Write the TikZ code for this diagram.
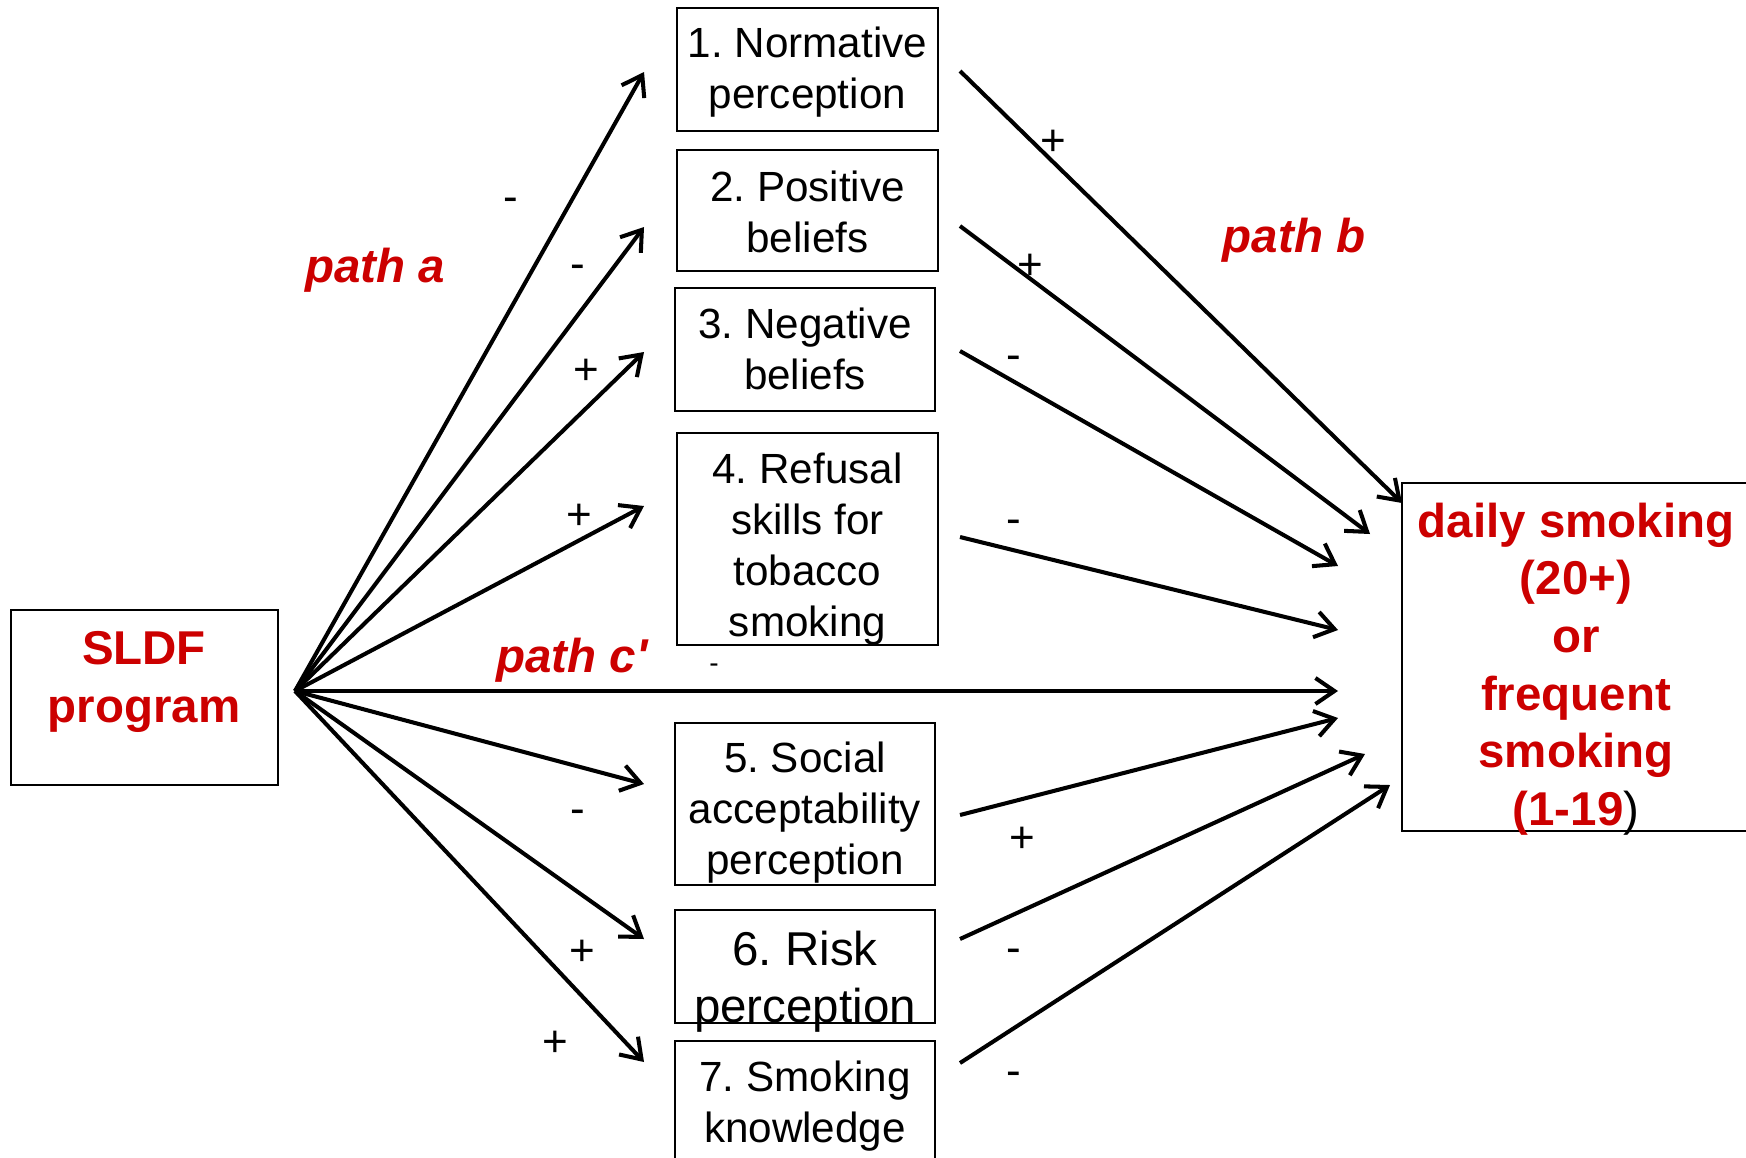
\documentclass[tikz,border=0pt]{standalone}
\usepackage{fontspec}
\setmainfont{Liberation Sans}
\usepackage{tikz}
\usetikzlibrary{arrows.meta}
\definecolor{sldfred}{RGB}{204,0,0}
\frenchspacing

\begin{document}
\begin{tikzpicture}[x=0.01cm,y=-0.01cm]

\tikzset{mediator/.style = {shape=rectangle,draw,line width=0.6pt,align=center,inner sep=0pt,font=\fontsize{12}{14.5}\selectfont}}
\tikzset{edge/.style = {-{Straight Barb[length=1.9mm,width=2.6mm]},line width=1.15pt}}
\tikzset{sign/.style = {inner sep=0pt,font=\fontsize{12.5}{14}\selectfont}}
\tikzset{pathlabel/.style = {inner sep=0pt,text=sldfred,font=\bfseries\itshape\fontsize{13.5}{16}\selectfont}}
\tikzset{outcome/.style = {inner sep=0pt,align=center,text=sldfred,font=\bfseries\fontsize{13.5}{16.4}\selectfont}}

\useasboundingbox (0,0) rectangle (1746,1157);

% program and outcome
\node[mediator,minimum width=2.67cm,minimum height=1.75cm] (sldf) at (144.5,697.5) {};
\node[outcome] (sldftext) at (144,682) {SLDF\\program};
\node[mediator,minimum width=3.58cm,minimum height=3.48cm] (smk) at (1581,657) {};
\node[outcome] (smktext) at (1576,669) {daily smoking\\(20+)\\or\\frequent\\smoking\\(1-19\textcolor{black}{\mdseries)}};

% mediators
\node[mediator,minimum width=2.61cm,text height=1.00cm,text depth=0.23cm] (m1) at (807.5,69.5) {1. Normative\\perception};
\node[mediator,minimum width=2.61cm,text height=1.02cm,text depth=0.19cm] (m2) at (807.5,210.5) {2. Positive\\beliefs};
\node[mediator,minimum width=2.60cm,text height=1.01cm,text depth=0.22cm] (m3) at (805,349.5) {3. Negative\\beliefs};
\node[mediator,minimum width=2.61cm,text height=2.03cm,text depth=0.09cm] (m4) at (807.5,539) {4. Refusal\\skills for\\tobacco\\smoking};
\node[mediator,minimum width=2.60cm,text height=1.51cm,text depth=0.11cm] (m5) at (805,804) {5. Social\\acceptability\\perception};
\node[mediator,minimum width=2.60cm,text height=1.12cm,text depth=0.01cm,font=\fontsize{13.5}{16.2}\selectfont] (m6) at (805,966.5) {6. Risk\\perception};
\node[mediator,minimum width=2.60cm,text height=1.01cm,text depth=0.19cm] (m7) at (805,1101) {7. Smoking\\knowledge};

% connector ends
\coordinate (src) at (295,691);
\coordinate (ta1) at (644,72);
\coordinate (ta2) at (644,227);
\coordinate (ta3) at (644,352);
\coordinate (ta4) at (644,506);
\coordinate (tc) at (1338,691);
\coordinate (ta5) at (644,784);
\coordinate (ta6) at (644,939);
\coordinate (ta7) at (644,1062);

\coordinate (sb1) at (960,71);
\coordinate (sb2) at (960,226);
\coordinate (sb3) at (960,351);
\coordinate (sb4) at (960,537);
\coordinate (sb5) at (960,815);
\coordinate (sb6) at (960,939);
\coordinate (sb7) at (960,1063);
\coordinate (tb1) at (1402,503);
\coordinate (tb2) at (1370,534);
\coordinate (tb3) at (1338,566);
\coordinate (tb4) at (1338,630);
\coordinate (tb5) at (1338,718);
\coordinate (tb6) at (1365,754);
\coordinate (tb7) at (1390,785);

% path a and c'
\draw[edge] (src) to (ta1);
\draw[edge] (src) to (ta2);
\draw[edge] (src) to (ta3);
\draw[edge] (src) to (ta4);
\draw[edge] (src) to (tc);
\draw[edge] (src) to (ta5);
\draw[edge] (src) to (ta6);
\draw[edge] (src) to (ta7);

% path b
\draw[edge] (sb1) to (tb1);
\draw[edge] (sb2) to (tb2);
\draw[edge] (sb3) to (tb3);
\draw[edge] (sb4) to (tb4);
\draw[edge] (sb5) to (tb5);
\draw[edge] (sb6) to (tb6);
\draw[edge] (sb7) to (tb7);

% signs
\node[sign] (sa1) at (511,205) {-};
\node[sign] (sa2) at (578,272) {-};
\node[sign] (sa3) at (586,372) {+};
\node[sign] (sa4) at (579,517) {+};
\node[sign] (sa5) at (578,817) {-};
\node[sign] (sa6) at (582,953) {+};
\node[sign] (sa7) at (555,1044) {+};
\node[sign,font=\fontsize{8}{9}\selectfont] (sc) at (714,668) {-};
\node[sign] (sgb1) at (1053,143) {+};
\node[sign] (sgb2) at (1030,267) {+};
\node[sign] (sgb3) at (1014,363) {-};
\node[sign] (sgb4) at (1014,527) {-};
\node[sign] (sgb5) at (1022,840) {+};
\node[sign] (sgb6) at (1014,956) {-};
\node[sign] (sgb7) at (1014,1079) {-};

% path labels
\node[pathlabel] (pa) at (375,270) {path a};
\node[pathlabel] (pb) at (1294,240) {path b};
\node[pathlabel] (pc) at (572,660) {path c\textquotesingle};

\end{tikzpicture}
\end{document}
